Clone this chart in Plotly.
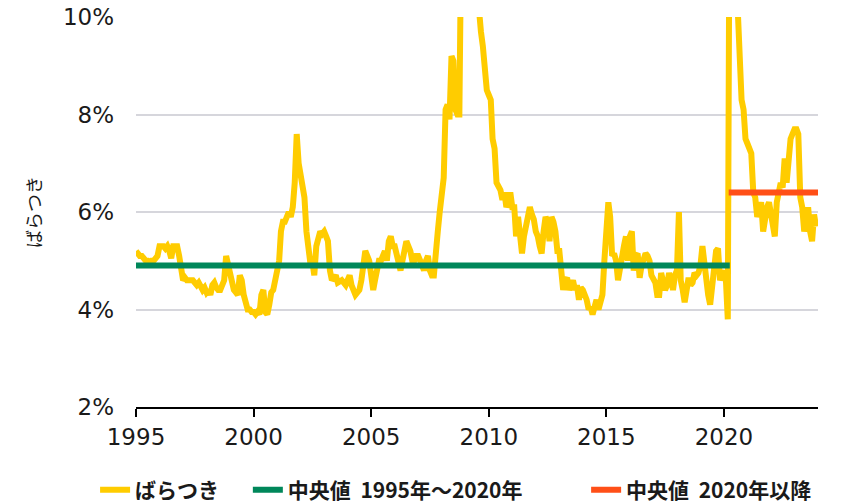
import pandas as pd
import plotly.graph_objects as go

# ---- data (monthly dispersion, %) ----
start_month = "1995-01-01"
y1995 = [5.2, 5.15, 5.1, 5.1, 5.05, 5.0, 5.0, 4.95, 5.0, 5.0, 5.05, 5.1]
y1996 = [5.3, 5.3, 5.3, 5.25, 5.3, 5.2, 5.05, 5.3, 5.3, 5.3, 5.1, 4.9]
y1997 = [4.6, 4.65, 4.6, 4.6, 4.6, 4.6, 4.55, 4.5, 4.55, 4.5, 4.4, 4.45]
y1998 = [4.35, 4.4, 4.3, 4.5, 4.55, 4.45, 4.4, 4.4, 4.5, 4.6, 5.1, 4.9]
y1999 = [4.8, 4.6, 4.4, 4.35, 4.3, 4.7, 4.6, 4.3, 4.1, 4.0, 4.0, 3.95]
y2000 = [3.95, 3.9, 3.95, 3.9, 4.3, 4.4, 3.95, 3.9, 4.1, 4.35, 4.4, 4.6]
y2001 = [4.8, 5.0, 5.6, 5.8, 5.8, 5.9, 6.0, 5.9, 6.1, 6.6, 7.6, 7.0]
y2002 = [6.8, 6.5, 6.3, 5.6, 5.1, 4.95, 5.0, 4.7, 5.3, 5.5, 5.6, 5.55]
y2003 = [5.6, 5.5, 5.4, 4.8, 4.6, 4.65, 4.7, 4.55, 4.6, 4.6, 4.55, 4.5]
y2004 = [4.6, 4.7, 4.5, 4.35, 4.3, 4.35, 4.4, 4.6, 5.0, 5.2, 5.1, 5.0]
y2005 = [4.7, 4.4, 4.6, 4.9, 5.0, 5.0, 5.1, 5.2, 5.0, 5.4, 5.5, 5.3]
y2006 = [5.3, 5.1, 4.85, 4.8, 5.0, 5.2, 5.4, 5.3, 5.2, 5.0, 5.0, 5.1]
y2007 = [5.1, 5.0, 4.9, 4.8, 5.0, 5.1, 4.8, 4.7, 4.7, 5.3, 5.6, 6.0]
y2008 = [6.4, 6.7, 8.1, 8.2, 7.9, 9.2, 9.1, 8.1, 8.0, 8.0, 12.0, 13.0]
y2009 = [13.5, 14.0, 13.0, 12.0, 11.5, 11.0, 10.6, 10.1, 9.7, 9.4, 8.8, 8.5]
y2010 = [8.4, 8.3, 7.5, 7.3, 6.6, 6.5, 6.45, 6.25, 6.4, 6.1, 6.2, 6.4]
y2011 = [6.1, 6.1, 5.5, 5.9, 5.6, 5.15, 5.5, 5.75, 6.0, 6.1, 5.95, 5.85]
y2012 = [5.6, 5.5, 5.3, 5.15, 5.6, 5.9, 5.8, 5.4, 5.9, 5.8, 5.6, 5.2]
y2013 = [5.2, 4.7, 4.4, 4.6, 4.65, 4.4, 4.5, 4.6, 4.4, 4.5, 4.2, 4.45]
y2014 = [4.4, 4.3, 4.2, 4.0, 4.05, 3.9, 4.1, 4.2, 4.0, 4.2, 4.3, 5.0]
y2015 = [5.7, 6.2, 5.9, 5.1, 5.15, 5.0, 4.6, 4.9, 5.1, 5.3, 5.5, 5.0]
y2016 = [5.5, 5.6, 4.8, 5.1, 5.15, 4.65, 4.9, 5.0, 5.15, 5.1, 5.0, 4.7]
y2017 = [4.6, 4.55, 4.3, 4.3, 4.75, 4.6, 4.4, 4.5, 4.75, 4.6, 4.4, 4.7]
y2018 = [4.8, 6.0, 4.6, 4.4, 4.15, 4.4, 4.65, 4.5, 4.55, 4.75, 4.7, 4.75]
y2019 = [4.9, 5.3, 4.9, 4.6, 4.3, 4.1, 4.4, 4.7, 5.2, 5.25, 4.6, 4.7]
y2020 = [4.8, 4.6, 3.8, 14.0, 13.0, 12.0, 11.0, 10.0, 9.0, 8.3, 8.1, 7.5]
y2021 = [7.4, 7.3, 7.2, 6.4, 6.3, 5.9, 6.1, 6.2, 5.6, 5.9, 6.1, 6.2]
y2022 = [6.0, 5.8, 5.5, 6.2, 6.5, 6.6, 6.5, 7.1, 6.6, 7.1, 7.5, 7.6]
y2023 = [7.7, 7.7, 7.6, 6.3, 6.1, 5.6, 5.9, 6.1, 5.6, 5.4, 5.95, 5.7]

median_pre = 4.9
median_pre_span = ["1995-01-01", "2020-04-01"]
median_post = 6.4
median_post_span = ["2020-03-15", "2024-01-01"]

y_ticks = [2, 4, 6, 8, 10]
y_tick_text = ["2%", "4%", "6%", "8%", "10%"]
names = ["ばらつき", "中央値\u00a0\u00a01995年～2020年", "中央値\u00a0\u00a02020年以降"]

series = (y1995 + y1996 + y1997 + y1998 + y1999 + y2000 + y2001 + y2002 + y2003 +
          y2004 + y2005 + y2006 + y2007 + y2008 + y2009 + y2010 + y2011 + y2012 +
          y2013 + y2014 + y2015 + y2016 + y2017 + y2018 + y2019 + y2020 + y2021 +
          y2022 + y2023)
dates = pd.date_range(start_month, periods=len(series), freq="MS")

YELLOW = "#FFCC00"
GREEN = "#00875A"
ORANGE = "#FF4F17"

fig = go.Figure()
fig.add_trace(go.Scatter(x=dates, y=series, mode="lines", name=names[0], legend="legend",
                         line=dict(color=YELLOW, width=6)))
fig.add_trace(go.Scatter(x=median_pre_span, y=[median_pre, median_pre], mode="lines",
                         name=names[1], legend="legend2", line=dict(color=GREEN, width=6)))
fig.add_trace(go.Scatter(x=median_post_span, y=[median_post, median_post], mode="lines",
                         name=names[2], legend="legend3", line=dict(color=ORANGE, width=6)))

tick_font = dict(family="DejaVu Sans", size=23, color="#1a1a1a")
leg_font = dict(family="Noto Sans CJK JP", size=21, color="#1a1a1a", weight="bold")
leg_common = dict(orientation="h", y=-0.213, yanchor="middle", xanchor="left",
                  font=leg_font, bgcolor="rgba(0,0,0,0)")

fig.update_layout(
    width=843, height=504,
    margin=dict(l=136, r=25, t=17, b=97, autoexpand=False),
    plot_bgcolor="white", paper_bgcolor="white",
    showlegend=True,
    legend=dict(x=-0.060, **leg_common),
    legend2=dict(x=0.164, **leg_common),
    legend3=dict(x=0.660, **leg_common),
    xaxis=dict(type="date", range=["1995-01-01", "2024-01-01"],
               tick0="1995-01-01", dtick="M60", tickformat="%Y",
               showgrid=False, showline=True, linecolor="black", linewidth=2,
               ticks="outside", ticklen=8, tickwidth=2, tickcolor="black",
               tickfont=tick_font, zeroline=False, automargin=False),
    yaxis=dict(range=[2, 10], tickmode="array", tickvals=y_ticks, ticktext=y_tick_text,
               showgrid=True, gridcolor="#D6D6DC", gridwidth=1.5,
               showline=False, zeroline=False, ticks="", automargin=False,
               ticklabeloverflow="allow",
               ticklabelstandoff=21, tickfont=tick_font,
               title=dict(text="ばらつき", standoff=16,
                          font=dict(family="Noto Sans CJK JP", size=18, color="#1a1a1a"))),
)

# remove the browser's default 8px page margin so the figure fills the window exactly
fig.write_html("out.html", config={"displayModeBar": False},
               post_script="document.body.style.margin='0px';")
